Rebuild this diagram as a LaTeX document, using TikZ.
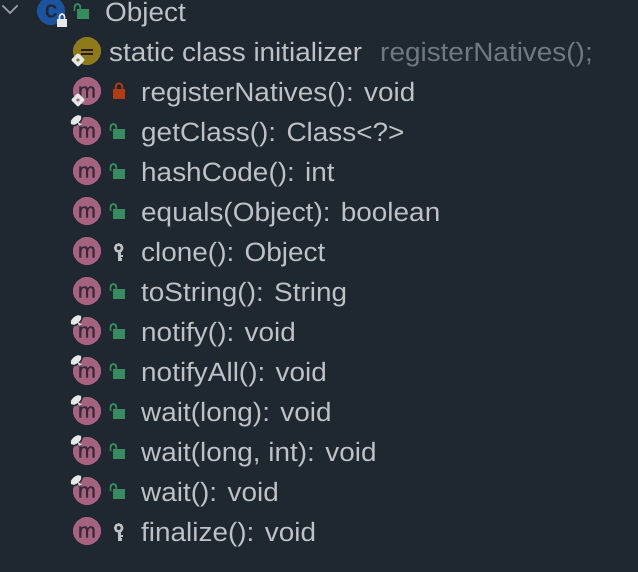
\documentclass[tikz,border=0pt]{standalone}
\usepackage{fontspec}
\setmainfont[FakeStretch=1.054]{Liberation Sans}
\newfontfamily\badgefont[FakeStretch=1.03,FakeBold=0.6]{Liberation Sans}
\definecolor{bg}{HTML}{1F2730}
\definecolor{txt}{HTML}{BEC2C6}
\definecolor{dim}{HTML}{6E7982}
\definecolor{mfill}{HTML}{A5637F}
\definecolor{mink}{HTML}{37283A}
\definecolor{yel}{HTML}{8E7A1B}
\definecolor{grn}{HTML}{378B5F}
\definecolor{redl}{HTML}{B03C14}
\definecolor{blu}{HTML}{1C539F}
\definecolor{wht}{HTML}{E6E7E8}
\tikzset{
 x=1pt,y=-1pt,
 label/.style={anchor=base west,inner sep=0pt,yshift=-0.7pt,text=txt,font=\fontsize{26.5}{30}\selectfont},
 dimlabel/.style={label,text=dim},
 badge/.style={circle,minimum size=28pt,inner sep=0pt,fill=mfill,text=mink,font=\badgefont\fontsize{21}{24}\selectfont},
}
\newcommand{\mbadge}[2]{\node[badge] (#1) at (87,#2) {\raisebox{-1pt}[\height][0pt]{m}};}
\newcommand{\openlock}[2]{\begin{scope}[shift={(#1,#2)}]
 \fill[grn] (4,-2) rectangle (16,8);
 \draw[grn,line width=1.8pt] (1.5,0) -- (1.5,-4) arc[start angle=180,end angle=0,x radius=2.9,y radius=-3] -- (7.3,-2);
\end{scope}}
\newcommand{\redlock}[2]{\begin{scope}[shift={(#1,#2)}]
 \fill[redl] (4,-2) rectangle (16,8);
 \draw[redl,line width=1.8pt] (6.8,-2) -- (6.8,-4.5) arc[start angle=180,end angle=0,x radius=3.2,y radius=-3.2] -- (13.2,-2);
\end{scope}}
\newcommand{\keyicon}[2]{\begin{scope}[shift={(#1,#2)}]
 \draw[txt,line width=2.5pt] (9.7,-3) circle (3.5);
 \fill[txt] (8.5,1) rectangle (11.5,9.7);
 \fill[txt] (11,3.7) rectangle (14,6.3);
 \fill[txt] (11,7) rectangle (13.3,9.7);
\end{scope}}
\newcommand{\pin}[1]{\begin{scope}[shift={(87,#1)}]
 \fill[bg,rotate around={40:(-11,-11)}] (-11,-11) ellipse (8 and 5);
 \fill[bg] (-8.7,-8.3) -- (-4.3,-5) -- (-8.7,-5) -- cycle;
 \fill[wht,rotate around={40:(-11,-11)}] (-11,-11) ellipse (6.5 and 3.4);
 \fill[wht] (-9,-9) -- (-4.6,-5.8) -- (-8.4,-5.4) -- cycle;
\end{scope}}
\newcommand{\diam}[2]{\begin{scope}[shift={(78,#1)}]
 \fill[wht,rounded corners=1pt] (0,-7) -- (7,0) -- (0,7) -- (-7,0) -- cycle;
 \fill[#2] (0,0) circle (1.9);
\end{scope}}
\begin{document}
\begin{tikzpicture}
\useasboundingbox (0,0) rectangle (638,572);
\fill[bg] (0,0) rectangle (638,572);
% chevron
\draw[txt!80!bg,line width=1.6pt] (2.5,5.5) -- (10,13) -- (17.5,5.5);
% class row
\node[badge,fill=blu,text=bg,font=\badgefont\fontsize{24}{24}\selectfont] (cls) at (51,11) {c};
\fill[wht] (57,19) rectangle (67,27);
\draw[wht,line width=1.6pt] (59.5,19) -- (59.5,16.5) arc[start angle=180,end angle=0,x radius=2.5,y radius=-2.5] -- (64.5,19);
\openlock{73}{11}
\node[label] (object) at (105,21) {Object};
% initializer row
\node[badge,fill=yel] (init) at (87,51) {};
\fill[mink!70!black] (81,49) rectangle (93,50.7);
\fill[mink!70!black] (81,53) rectangle (93,54.7);
\diam{60}{yel}
\node[label] (sinit) at (109,61) {static class initializer};
\node[dimlabel] (snat) at (380,61) {registerNatives();};
% methods
\mbadge{m1}{91}\diam{100}{mfill}\redlock{109}{91}
\node[label] (t1) at (141,101) {registerNatives(): void};
\mbadge{m2}{131}\pin{131}\openlock{109}{131}
\node[label] (t2) at (141,141) {getClass(): Class<?>};
\mbadge{m3}{171}\openlock{109}{171}
\node[label] (t3) at (141,181) {hashCode(): int};
\mbadge{m4}{211}\openlock{109}{211}
\node[label] (t4) at (141,221) {equals(Object): boolean};
\mbadge{m5}{251}\keyicon{109}{251}
\node[label] (t5) at (141,261) {clone(): Object};
\mbadge{m6}{291}\openlock{109}{291}
\node[label] (t6) at (141,301) {toString(): String};
\mbadge{m7}{331}\pin{331}\openlock{109}{331}
\node[label] (t7) at (141,341) {notify(): void};
\mbadge{m8}{371}\pin{371}\openlock{109}{371}
\node[label] (t8) at (141,381) {notifyAll(): void};
\mbadge{m9}{411}\pin{411}\openlock{109}{411}
\node[label] (t9) at (141,421) {wait(long): void};
\mbadge{m10}{451}\pin{451}\openlock{109}{451}
\node[label] (t10) at (141,461) {wait(long, int): void};
\mbadge{m11}{491}\pin{491}\openlock{109}{491}
\node[label] (t11) at (141,501) {wait(): void};
\mbadge{m12}{531}\keyicon{109}{531}
\node[label] (t12) at (141,541) {finalize(): void};
\end{tikzpicture}
\end{document}
